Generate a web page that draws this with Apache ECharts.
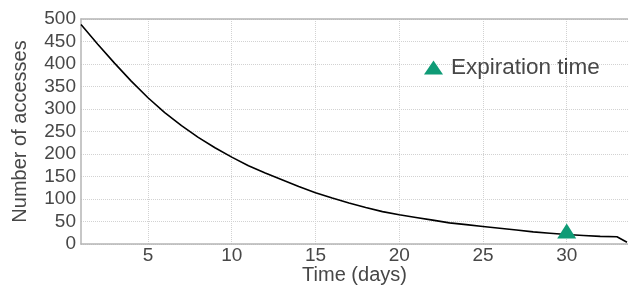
<!DOCTYPE html>
<html>
<head>
<meta charset="utf-8">
<script src="https://cdn.jsdelivr.net/npm/echarts@6/dist/echarts.min.js"></script>
<style>
  html, body { margin: 0; padding: 0; background: #fff; }
  #main { width: 628px; height: 285px; }
</style>
</head>
<body>
<div id="main"></div>
<script>
var days = [1, 2, 3, 4, 5, 6, 7, 8, 9, 10, 11, 12, 13, 14, 15, 16, 17, 18, 19, 20,
  21, 22, 23, 24, 25, 26, 27, 28, 29, 30, 31, 32, 33, 33.6]
var accesses = [488, 444, 402, 362, 325, 292, 263, 237, 214, 193, 174, 158, 143, 128, 114, 102, 91, 81, 72, 65,
  59, 53, 47, 43, 39, 35, 31, 27, 24, 21, 19, 17, 16, 4]
var expiration = [[30, 29]]
var xTicks = [5, 10, 15, 20, 25, 30]

var textColor = '#474747'
var fontName = 'Liberation Sans, Arial, sans-serif'

var chart = echarts.init(document.getElementById('main'))

var option = {
  animation: false,
  grid: {
    left: 81,
    right: 0,
    top: 19,
    bottom: 41,
    outerBoundsMode: 'none',
    containLabel: false
  },
  legend: {
    data: [{ name: 'Expiration time', icon: 'triangle' }],
    left: 424,
    top: 56,
    padding: 0,
    itemWidth: 19,
    itemHeight: 14,
    textStyle: {
      color: textColor,
      fontSize: 22.5,
      fontFamily: fontName,
      padding: [0, 0, 0, 3]
    }
  },
  xAxis: [
    {
      type: 'value',
      min: 1,
      max: 33.66,
      name: 'Time (days)',
      nameLocation: 'middle',
      nameGap: 21,
      nameMoveOverlap: false,
      nameTextStyle: { color: textColor, fontSize: 20, fontFamily: fontName },
      axisLine: { show: true, lineStyle: { color: '#b5b5b5', width: 1.5 } },
      axisTick: { show: false, customValues: xTicks },
      axisLabel: {
        customValues: xTicks,
        color: textColor,
        fontSize: 19,
        fontFamily: fontName,
        margin: 2
      },
      splitLine: {
        show: true,
        lineStyle: { color: '#d2d2d2', type: 'dotted', width: 1 }
      }
    },
    {
      type: 'value',
      position: 'top',
      min: 1,
      max: 33.66,
      axisLine: { show: true, lineStyle: { color: '#b5b5b5', width: 1.5 } },
      axisTick: { show: false },
      axisLabel: { show: false },
      splitLine: { show: false }
    }
  ],
  yAxis: {
    type: 'value',
    min: 0,
    max: 500,
    interval: 50,
    name: 'Number of accesses',
    nameLocation: 'middle',
    nameGap: 51,
    nameMoveOverlap: false,
    nameTextStyle: { color: textColor, fontSize: 20, fontFamily: fontName },
    axisLine: { show: true, lineStyle: { color: '#b5b5b5', width: 1.5 } },
    axisTick: { show: false },
    axisLabel: {
      color: textColor,
      fontSize: 19,
      fontFamily: fontName,
      margin: 5
    },
    splitLine: {
      show: true,
      lineStyle: { color: '#d2d2d2', type: 'dotted', width: 1 }
    }
  },
  series: [
    {
      name: 'accesses',
      type: 'line',
      data: days.map(function (d, i) { return [d, accesses[i]] }),
      showSymbol: false,
      smooth: false,
      lineStyle: { color: '#000', width: 1.6 },
      z: 2
    },
    {
      name: 'Expiration time',
      type: 'scatter',
      data: expiration,
      symbol: 'triangle',
      symbolSize: [19, 15],
      itemStyle: { color: '#0f9b76', opacity: 1 },
      z: 3
    }
  ]
}

chart.setOption(option)
</script>
</body>
</html>
